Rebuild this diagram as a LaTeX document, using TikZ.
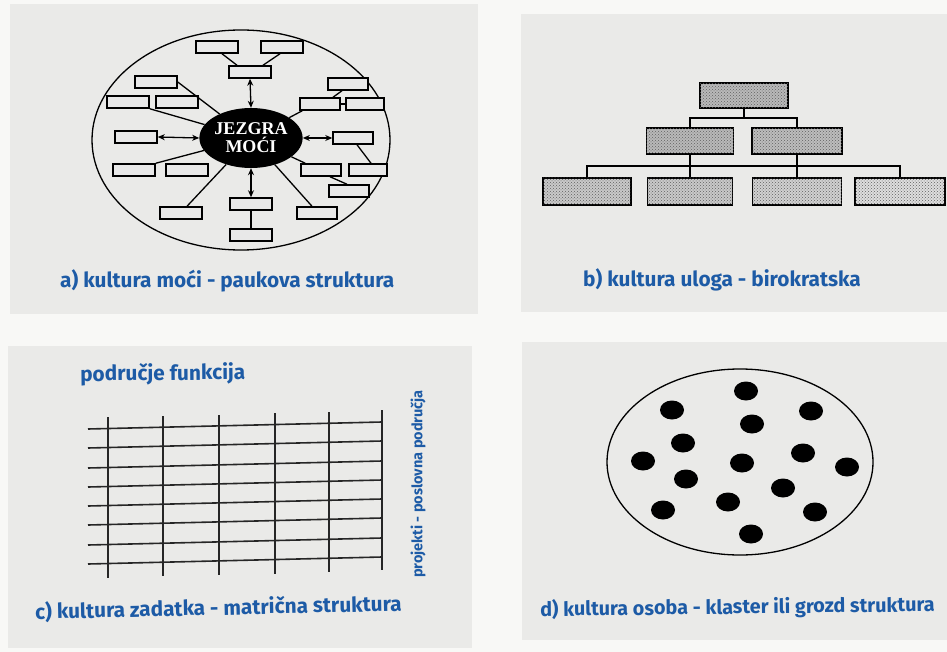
\documentclass[tikz,border=0pt]{standalone}
\usepackage{fontspec}
\setmainfont{Fira Sans}
\newfontfamily\coreserif{Liberation Serif}
\usetikzlibrary{shapes.geometric,arrows.meta,patterns}
\definecolor{pagebg}{HTML}{F8F8F6}
\definecolor{panelbg}{HTML}{EAEAE8}
\definecolor{capblue}{HTML}{1D5BA6}
\tikzset{
  panel/.style={fill=panelbg, draw=none},
  caption/.style={text=capblue, font=\fontsize{20.8}{23}\selectfont\bfseries, anchor=west, inner sep=0pt},
  sbox/.style={draw=black, line width=1.5pt, fill=gray!18, minimum width=42pt, minimum height=12pt, inner sep=0pt},
  corenode/.style={ellipse, fill=black, minimum width=88pt, minimum height=60pt, inner sep=0pt, text=white, align=center,
     font=\coreserif\fontsize{18}{19}\selectfont\bfseries},
  conn/.style={line width=1.3pt, draw=black},
  dconn/.style={conn, {Stealth[length=7pt,width=6pt]}-{Stealth[length=7pt,width=6pt]}},
  hbox/.style={draw=black, line width=1.5pt, inner sep=0pt, minimum height=26pt,
     postaction={pattern=crosshatch dots, pattern color=gray!75!black}},
  dot/.style={ellipse, fill=black, minimum width=24pt, minimum height=19pt, inner sep=0pt},
  grid/.style={line width=1.6pt, draw=black!85}
}
\begin{document}
\begin{tikzpicture}[x=1pt,y=-1pt]
\useasboundingbox (0,0) rectangle (947,652);
\fill[pagebg] (0,0) rectangle (947,652);
% panels
\fill[panel] (10,4) rectangle (478,314);
\fill[panel] (521,14) rectangle (947,312);
\fill[panel] (8,346) rectangle (472,648);
\fill[panel] (522,342) rectangle (947,640);

% ---------- panel a ----------
\draw[line width=1.3pt] (241,140) ellipse [x radius=149, y radius=110];
\node[corenode] (core) at (251,138) {JEZGRA\\[-1pt]MOĆI};
\node[sbox] (b1) at (217,47) {};
\node[sbox] (b2) at (282,47) {};
\node[sbox] (b3) at (250,72) {};
\node[sbox] (b4) at (156,82) {};
\node[sbox] (b5) at (128,102) {};
\node[sbox] (b6) at (177,102) {};
\node[sbox, minimum width=40pt] (b7) at (348,84) {};
\node[sbox, minimum width=40pt] (b8) at (320,104) {};
\node[sbox, minimum width=38pt] (b9) at (365,104) {};
\node[sbox] (b10) at (136,137) {};
\node[sbox, minimum width=40pt] (b11) at (353,138) {};
\node[sbox] (b12) at (134,170) {};
\node[sbox] (b13) at (187,170) {};
\node[sbox, minimum width=40pt] (b14) at (321,170) {};
\node[sbox, minimum width=38pt] (b15) at (368,170) {};
\node[sbox, minimum width=40pt] (b16) at (349,191) {};
\node[sbox] (b17) at (251,204) {};
\node[sbox] (b18) at (181,213) {};
\node[sbox, minimum width=40pt] (b19) at (317,213) {};
\node[sbox] (b20) at (251,235) {};

\draw[conn] ([xshift=5pt]b1.south) -- ([xshift=-13pt]b3.north);
\draw[conn] ([xshift=-2pt]b2.south) -- ([xshift=13pt]b3.north);
\draw[dconn] (b3.south) -- (core.north);
\draw[conn] (b4.east) -- (core);
\draw[conn] (b5.south east) -- (core);
\draw[dconn] (b10.east) -- (core.west);
\draw[conn] (b12.north east) -- (core);
\draw[conn] ([xshift=6pt]b18.north) -- (core);
\draw[dconn] (b17.north) -- (core.south);
\draw[conn] (b17.south) -- (b20.north);
\draw[conn] ([xshift=-5pt]b19.north) -- (core);
\draw[conn] (core) -- ([xshift=5pt]b14.north west);
\draw[conn] ([xshift=9pt]b14.south) -- ([xshift=-2pt]b16.north);
\draw[dconn] (core.east) -- (b11.west);
\draw[conn] ([xshift=4pt]b11.south) -- ([xshift=3pt]b15.north);
\draw[conn] (core) -- ([xshift=3pt]b8.south west);
\draw[conn] ([xshift=13pt]b8.north) -- ([xshift=-6pt]b7.south);
\draw[conn] (b8.east) -- (b9.west);

\node[caption] (capa) at (60,281) {a) kultura moći - paukova struktura};

% ---------- panel b ----------
\node[hbox, fill=gray!55, minimum width=88pt, minimum height=25pt] (t) at (744,95.5) {};
\node[hbox, fill=gray!55, minimum width=87pt] (m1) at (690,141) {};
\node[hbox, fill=gray!52, minimum width=90pt] (m2) at (797,141) {};
\node[hbox, fill=gray!42, minimum width=88pt, minimum height=27pt] (l1) at (587,191.5) {};
\node[hbox, fill=gray!42, minimum width=85pt, minimum height=27pt] (l2) at (690,191.5) {};
\node[hbox, fill=gray!36, minimum width=89pt, minimum height=27pt] (l3) at (797,191.5) {};
\node[hbox, fill=gray!26, minimum width=90pt, minimum height=27pt] (l4) at (900,191.5) {};
\coordinate (tb) at (744,118);
\draw[conn] (t.south) -- (tb);
\draw[conn] (m1.north) |- (tb) -| (m2.north);
\coordinate (hl) at (587,166);
\coordinate (hr) at (900,166);
\draw[conn] (l1.north) -- (hl) -- (hr) -- (l4.north);
\draw[conn] (m1.south) -- (l2.north);
\draw[conn] (m2.south) -- (l3.north);

\node[caption] (capb) at (583,280) {b) kultura uloga - birokratska};

% ---------- panel c ----------
\node[caption, rotate=0.6] (func) at (80,375) {područje funkcija};
\foreach \x/\t/\b in {108/417/578, 163/416/576, 219/415/575, 275/413/574, 329/412/572, 382/410/570}
  \draw[grid] (\x,\t) -- (\x,\b);
\foreach \y in {429,448,468,487,506,525,545,564}
  \draw[grid] (88,\y) -- (382,\y-7);
\node[text=capblue, font=\fontsize{14.5}{16}\selectfont\bfseries, rotate=90, inner sep=0pt] (proj) at (418,484) {projekti - poslovna područja};
\node[caption, rotate=1.3] (capc) at (35,612) {c) kultura zadatka - matrična struktura};

% ---------- panel d ----------
\draw[line width=1.3pt] (740,462) ellipse [x radius=133, y radius=93];
\node[dot] (p1) at (746,391) {};
\node[dot] (p2) at (672,410) {};
\node[dot] (p3) at (811,411) {};
\node[dot] (p4) at (752,424) {};
\node[dot] (p5) at (683,443) {};
\node[dot] (p6) at (803,453) {};
\node[dot] (p7) at (643,461) {};
\node[dot] (p8) at (742,463) {};
\node[dot] (p9) at (847,467) {};
\node[dot] (p10) at (686,479) {};
\node[dot] (p11) at (783,488) {};
\node[dot] (p12) at (728,502) {};
\node[dot] (p13) at (663,510) {};
\node[dot] (p14) at (815,512) {};
\node[dot] (p15) at (751,534) {};
\node[caption, font=\fontsize{19.8}{22}\selectfont\bfseries, rotate=0.7] (capd) at (540,610) {d) kultura osoba - klaster ili grozd struktura};
\end{tikzpicture}
\end{document}
